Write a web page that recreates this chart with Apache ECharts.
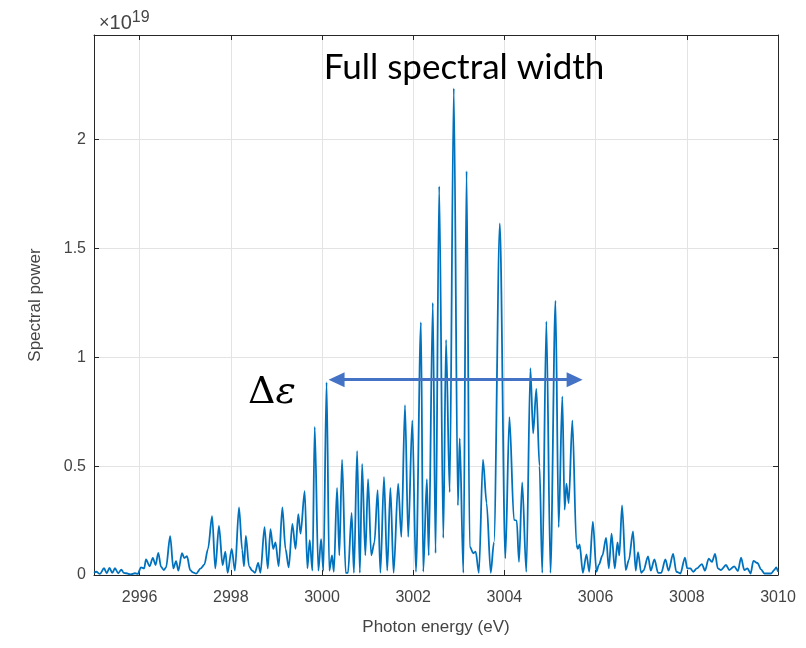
<!DOCTYPE html>
<html>
<head>
<meta charset="utf-8">
<script src="https://cdn.jsdelivr.net/npm/echarts@6/dist/echarts.min.js"></script>
<style>
    body { margin: 0; background: #fff; }
    #spectrum { width: 806px; height: 648px; }
</style>
</head>
<body>
<div id="spectrum"></div>
<script type="text/javascript">

    // photon energy (eV) and spectral power (x10^19)
    var energy = [
        2995.00, 2995.05, 2995.13, 2995.22, 2995.28, 2995.34, 2995.40, 2995.46, 2995.53, 2995.60,
        2995.65, 2995.71, 2995.80, 2995.90, 2995.96, 2996.03, 2996.10, 2996.14, 2996.22, 2996.29,
        2996.35, 2996.41, 2996.47, 2996.53, 2996.58, 2996.67, 2996.74, 2996.80, 2996.85, 2996.93,
        2996.98, 2997.04, 2997.11, 2997.17, 2997.24, 2997.34, 2997.42, 2997.50, 2997.59, 2997.66,
        2997.74, 2997.82, 2997.88, 2997.93, 2998.02, 2998.09, 2998.18, 2998.25, 2998.29, 2998.33,
        2998.40, 2998.47, 2998.53, 2998.60, 2998.65, 2998.74, 2998.81, 2998.87, 2998.93, 2998.98,
        2999.05, 2999.13, 2999.20, 2999.27, 2999.35, 2999.42, 2999.48, 2999.53, 2999.62, 2999.68,
        2999.73, 2999.79, 2999.84, 2999.92, 2999.98, 3000.03, 3000.10, 3000.16, 3000.22, 3000.26,
        3000.33, 3000.38, 3000.44, 3000.52, 3000.57, 3000.65, 3000.70, 3000.77, 3000.83, 3000.88,
        3000.95, 3001.01, 3001.08, 3001.15, 3001.22, 3001.28, 3001.36, 3001.43, 3001.50, 3001.57,
        3001.67, 3001.74, 3001.82, 3001.89, 3001.98, 3002.06, 3002.17, 3002.22, 3002.30, 3002.34,
        3002.43, 3002.49, 3002.57, 3002.66, 3002.72, 3002.80, 3002.89, 3002.98, 3003.02, 3003.10,
        3003.17, 3003.24, 3003.32, 3003.37, 3003.44, 3003.53, 3003.61, 3003.70, 3003.77, 3003.90,
        3004.02, 3004.11, 3004.21, 3004.27, 3004.32, 3004.39, 3004.48, 3004.57, 3004.63, 3004.70,
        3004.77, 3004.83, 3004.92, 3005.01, 3005.12, 3005.19, 3005.27, 3005.32, 3005.36, 3005.41,
        3005.49, 3005.58, 3005.61, 3005.65, 3005.72, 3005.80, 3005.86, 3005.94, 3006.02, 3006.07,
        3006.15, 3006.23, 3006.29, 3006.35, 3006.42, 3006.48, 3006.52, 3006.58, 3006.66, 3006.73,
        3006.82, 3006.88, 3006.93, 3007.00, 3007.05, 3007.15, 3007.21, 3007.29, 3007.37, 3007.44,
        3007.53, 3007.60, 3007.70, 3007.77, 3007.86, 3007.96, 3008.01, 3008.08, 3008.14, 3008.22,
        3008.33, 3008.40, 3008.48, 3008.55, 3008.62, 3008.68, 3008.75, 3008.86, 3008.93, 3009.04,
        3009.12, 3009.19, 3009.26, 3009.33, 3009.40, 3009.46, 3009.55, 3009.63, 3009.70, 3009.85,
        3009.92, 3009.96, 3010.00
    ];
    var power = [
        0.010, 0.015, 0.005, 0.031, 0.008, 0.033, 0.010, 0.031, 0.008, 0.025,
        0.010, 0.008, 0.003, 0.008, 0.005, 0.035, 0.030, 0.072, 0.040, 0.079,
        0.046, 0.102, 0.038, 0.023, 0.035, 0.178, 0.030, 0.064, 0.020, 0.100,
        0.078, 0.086, 0.022, 0.012, 0.006, 0.030, 0.048, 0.120, 0.270, 0.030,
        0.225, 0.045, 0.107, 0.010, 0.120, 0.020, 0.310, 0.115, 0.040, 0.180,
        0.040, 0.020, 0.010, 0.055, 0.010, 0.220, 0.030, 0.210, 0.120, 0.150,
        0.040, 0.310, 0.120, 0.035, 0.235, 0.120, 0.280, 0.190, 0.385, 0.030,
        0.160, 0.020, 0.680, 0.020, 0.165, 0.020, 0.885, 0.020, 0.090, 0.015,
        0.400, 0.090, 0.530, 0.010, 0.010, 0.285, 0.010, 0.570, 0.010, 0.510,
        0.090, 0.440, 0.090, 0.150, 0.390, 0.010, 0.450, 0.020, 0.400, 0.010,
        0.420, 0.175, 0.780, 0.175, 0.710, 0.015, 1.160, 0.015, 0.440, 0.090,
        1.250, 0.100, 1.785, 0.170, 1.080, 0.380, 2.235, 0.320, 0.627, 0.010,
        1.855, 0.130, 0.100, 0.107, 0.010, 0.530, 0.330, 0.010, 0.150, 1.615,
        0.076, 0.725, 0.253, 0.250, 0.060, 0.425, 0.015, 0.950, 0.650, 0.855,
        0.500, 0.010, 1.165, 0.010, 1.260, 0.220, 0.820, 0.300, 0.420, 0.330,
        0.710, 0.140, 0.120, 0.140, 0.010, 0.095, 0.015, 0.245, 0.015, 0.046,
        0.090, 0.170, 0.030, 0.190, 0.030, 0.150, 0.090, 0.320, 0.023, 0.069,
        0.200, 0.020, 0.105, 0.010, 0.020, 0.085, 0.020, 0.072, 0.010, 0.010,
        0.072, 0.020, 0.097, 0.015, 0.007, 0.080, 0.030, 0.030, 0.015, 0.030,
        0.050, 0.020, 0.075, 0.060, 0.097, 0.030, 0.023, 0.046, 0.023, 0.040,
        0.018, 0.080, 0.023, 0.030, 0.007, 0.065, 0.055, 0.025, 0.007, 0.007,
        0.023, 0.035, 0.015
    ];

    // x range, y range
    var xMin = 2995, xMax = 3010, xStep = 2;
    var yMin = 0, yMax = 2.48, yStep = 0.5;

    // the double arrow marking the width (energy from/to, power level)
    var widthFrom = 3000.32, widthTo = 3005.54, widthLevel = 0.897;

    var axisColor = '#262626';
    var labelColor = '#444';
    var gridColor = '#e3e3e3';

    var points = energy.map(function (e, i) { return [e, power[i]]; });

    function yLabel(v) {
        if (Math.abs(v / yStep - Math.round(v / yStep)) > 1e-6) return '';
        return String(v);
    }
    function xLabel(v) {
        return v % xStep === 0 ? String(v) : '';
    }

    var chart = echarts.init(document.getElementById('spectrum'), null, {renderer: 'canvas'});
    chart.setOption({
        animation: false,
        backgroundColor: '#fff',
        textStyle: {fontFamily: 'Liberation Sans'},
        grid: {left: 94, right: 28, top: 35, bottom: 73},
        title: [
            {
                text: '{a|×}{b|10}{c|19}',
                left: 94, top: 5,
                textStyle: {
                    rich: {
                        a: {fontSize: 18, fontWeight: 'normal', color: labelColor, fontFamily: 'Liberation Sans'},
                        b: {fontSize: 20, fontWeight: 'normal', color: labelColor, fontFamily: 'Liberation Sans'},
                        c: {fontSize: 16, fontWeight: 'normal', color: labelColor, fontFamily: 'Liberation Sans', verticalAlign: 'top', padding: [0, 0, 10, 0]}
                    }
                }
            },
            {
                text: 'Full spectral width',
                left: 459, top: 45, textAlign: 'center',
                textStyle: {fontSize: 35, fontWeight: 'normal', color: '#000', fontFamily: 'Lato'}
            },
            {
                text: '{d|Δ}{e|ε}',
                left: 243, top: 369,
                textStyle: {
                    rich: {
                        d: {fontSize: 38, fontWeight: 'normal', color: '#000', fontFamily: 'DejaVu Serif'},
                        e: {fontSize: 38, fontWeight: 'normal', color: '#000', fontFamily: 'DejaVu Serif', fontStyle: 'italic'}
                    }
                }
            }
        ],
        xAxis: [
            {
                type: 'value', min: xMin, max: xMax, minInterval: xStep, maxInterval: xStep,
                name: 'Photon energy (eV)', nameLocation: 'middle', nameGap: 44,
                nameTextStyle: {fontSize: 17, color: labelColor},
                axisLine: {show: true, lineStyle: {color: axisColor}},
                axisTick: {inside: true, length: 5, lineStyle: {color: axisColor}},
                axisLabel: {fontSize: 16, color: labelColor, margin: 15, formatter: xLabel},
                splitLine: {show: true, lineStyle: {color: gridColor}}
            },
            {
                type: 'value', position: 'top', min: xMin, max: xMax, minInterval: xStep, maxInterval: xStep,
                axisLine: {show: true, onZero: false, lineStyle: {color: axisColor}},
                axisTick: {inside: true, length: 5, lineStyle: {color: axisColor}},
                axisLabel: {show: false},
                splitLine: {show: false}
            }
        ],
        yAxis: [
            {
                type: 'value', min: yMin, max: yMax, interval: yStep,
                name: 'Spectral power', nameLocation: 'middle', nameGap: 50,
                nameTextStyle: {fontSize: 17, color: labelColor},
                axisLine: {show: true, lineStyle: {color: axisColor}},
                axisTick: {inside: true, length: 5, lineStyle: {color: axisColor}},
                axisLabel: {fontSize: 16, color: labelColor, margin: 8, formatter: yLabel},
                splitLine: {show: true, lineStyle: {color: gridColor}}
            },
            {
                type: 'value', position: 'right', min: yMin, max: yMax, interval: yStep,
                axisLine: {show: true, onZero: false, lineStyle: {color: axisColor}},
                axisTick: {inside: true, length: 5, lineStyle: {color: axisColor}},
                axisLabel: {show: false},
                splitLine: {show: false}
            }
        ],
        series: [
            {
                type: 'line',
                data: points,
                showSymbol: false,
                smooth: 0.3,
                smoothMonotone: 'x',
                lineStyle: {color: '#0072BD', width: 1.8},
                markLine: {
                    silent: true,
                    symbol: ['triangle', 'triangle'],
                    symbolSize: [15, 16],
                    label: {show: false},
                    lineStyle: {color: '#4472C4', width: 3, type: 'solid'},
                    emphasis: {disabled: true},
                    data: [[{coord: [widthFrom, widthLevel]}, {coord: [widthTo, widthLevel]}]]
                }
            }
        ]
    });
</script>
</body>
</html>
